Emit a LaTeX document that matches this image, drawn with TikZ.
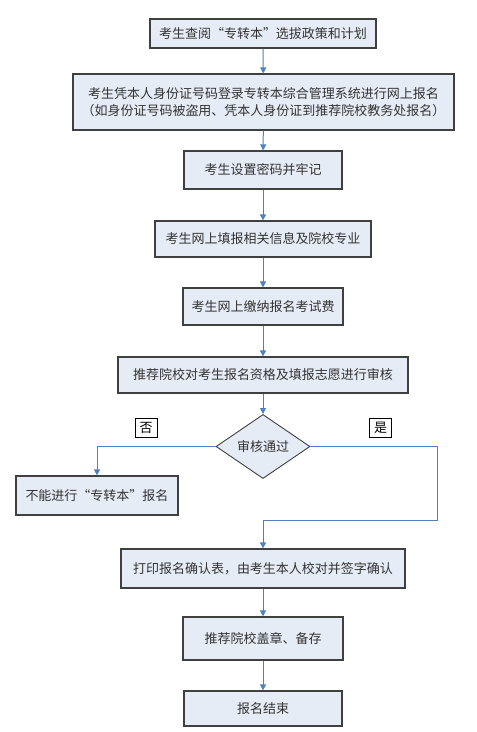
\documentclass[tikz,border=0pt]{standalone}
\usepackage{fontspec}
\setmainfont{Noto Sans CJK SC}
\usetikzlibrary{shapes.geometric,arrows.meta}
\definecolor{boxfill}{HTML}{E6ECF6}
\definecolor{boxline}{HTML}{404040}
\definecolor{flowblue}{HTML}{4F81BD}
\definecolor{textgray}{HTML}{333333}

\tikzset{
  stepbox/.style={draw=boxline, fill=boxfill, line width=1.2pt, inner sep=0pt,
    text=textgray, font=\fontsize{13}{17}\selectfont, align=center},
  checkbox/.style={stepbox, shape=diamond, line width=0.9pt, minimum width=94pt, minimum height=57pt},
  tagbox/.style={draw=black, fill=white, line width=0.8pt, inner sep=0pt,
    minimum width=22pt, minimum height=19pt, font=\fontsize{13}{15}\selectfont},
  flow/.style={draw=flowblue, line width=1pt, -{Triangle[width=6pt,length=6pt]}}
}

\begin{document}
\begin{tikzpicture}[x=1pt, y=-1pt]
\useasboundingbox (0,0) rectangle (477,732);

% main column
\node[stepbox, minimum width=226pt, minimum height=29pt] (query) at (263,33.5) {考生查阅“专转本”选拔政策和计划};
\node[stepbox, minimum width=381pt, minimum height=56pt] (login) at (263.5,102) {考生凭本人身份证号码登录专转本综合管理系统进行网上报名\\（如身份证号码被盗用、凭本人身份证到推荐院校教务处报名）};
\node[stepbox, minimum width=158pt, minimum height=38pt] (passwd) at (263,170) {考生设置密码并牢记};
\node[stepbox, minimum width=216pt, minimum height=36pt] (fillin) at (263,239) {考生网上填报相关信息及院校专业};
\node[stepbox, minimum width=160pt, minimum height=37pt] (pay) at (263,306.5) {考生网上缴纳报名考试费};
\node[stepbox, minimum width=290pt, minimum height=36pt] (review) at (263,375) {推荐院校对考生报名资格及填报志愿进行审核};
\node[checkbox] (pass) at (263,446.5) {审核通过};
\node[stepbox, minimum width=162pt, minimum height=39pt] (fail) at (97,495.5) {不能进行“专转本”报名};
\node[stepbox, minimum width=284pt, minimum height=39pt] (confirm) at (263,568.5) {打印报名确认表，由考生本人校对并签字确认};
\node[stepbox, minimum width=160pt, minimum height=43pt] (stamp) at (263,638.5) {推荐院校盖章、备存};
\node[stepbox, minimum width=158pt, minimum height=35pt] (done) at (263,708.5) {报名结束};

% yes / no tags
\node[tagbox] (notag) at (146,427.5) {否};
\node[tagbox] (yestag) at (380.5,427.5) {是};

\coordinate (yescorner) at (437,520);
\coordinate (yesjoin) at (263,520);

\draw[flow] (query) -- (login);
\draw[flow] (login) -- (passwd);
\draw[flow] (passwd) -- (fillin);
\draw[flow] (fillin) -- (pay);
\draw[flow] (pay) -- (review);
\draw[flow] (review) -- (pass);
\draw[flow] (pass.west) -| (fail.north);
\draw[flow] (pass.east) -| (yescorner) -- (yesjoin) -- (confirm.north);
\draw[flow] (confirm) -- (stamp);
\draw[flow] (stamp) -- (done);
\end{tikzpicture}
\end{document}
